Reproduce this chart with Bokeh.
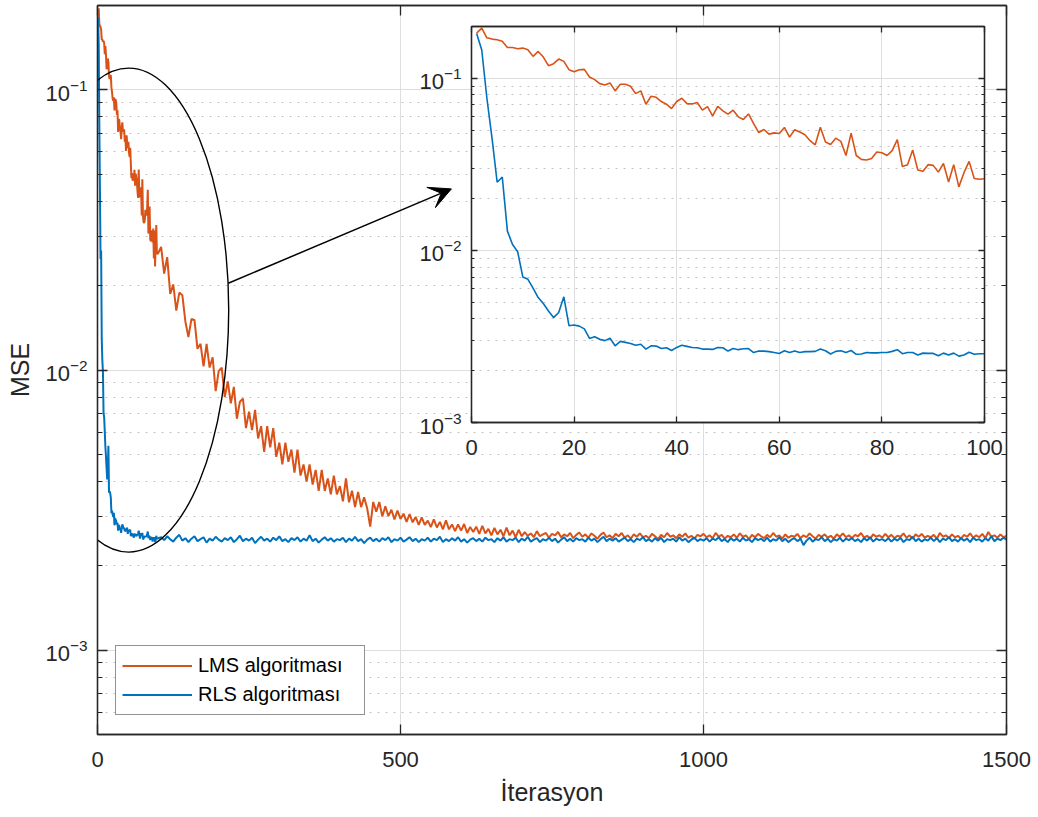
from bokeh.plotting import figure
from bokeh.models import (Range1d, LogAxis, LinearAxis, LogTicker, FixedTicker,
                          Legend, LegendItem, Arrow, VeeHead)
from bokeh.layouts import column
from bokeh.embed import file_html
from bokeh.resources import INLINE

# ---------------- data ----------------
inset_iter = list(range(1, 101))

lms_inset = [0.183, 0.1956, 0.172, 0.169, 0.1675, 0.1644, 0.1511, 0.1511, 0.1486, 0.1498,
             0.1466, 0.1341, 0.1433, 0.1329, 0.1184, 0.1216, 0.1294, 0.1254, 0.1122, 0.1093,
             0.1122, 0.1127, 0.1018, 0.0982, 0.0931, 0.0915, 0.0940, 0.0845, 0.0923, 0.0923,
             0.0899, 0.0815, 0.0845, 0.0707, 0.0787, 0.0776, 0.0733, 0.0707, 0.0667, 0.0733,
             0.0766, 0.0713, 0.0710, 0.0723, 0.0653, 0.0685, 0.0605, 0.0688, 0.0647, 0.0619,
             0.0653, 0.0597, 0.0576, 0.0621, 0.0546, 0.0484, 0.0504, 0.0474, 0.0482, 0.0478,
             0.0518, 0.0455, 0.0502, 0.0487, 0.0470, 0.0434, 0.0411, 0.0520, 0.0426, 0.0413,
             0.0449, 0.0430, 0.0356, 0.0480, 0.0356, 0.0338, 0.0335, 0.0342, 0.0373, 0.0369,
             0.0356, 0.0380, 0.0440, 0.0307, 0.0315, 0.0383, 0.0293, 0.0288, 0.0315, 0.0312,
             0.0285, 0.0320, 0.0250, 0.0315, 0.0234, 0.0283, 0.0329, 0.0262, 0.0259, 0.0261]

rls_inset = [0.182, 0.146, 0.0766, 0.0449, 0.0249, 0.0267, 0.01294, 0.01083, 0.00982, 0.00701,
             0.00679, 0.00603, 0.00532, 0.00491, 0.00445, 0.00407, 0.00436, 0.00537, 0.00365, 0.00369,
             0.00363, 0.00350, 0.00308, 0.00315, 0.00305, 0.00299, 0.00309, 0.00279, 0.00296, 0.00292,
             0.00288, 0.00281, 0.00285, 0.00267, 0.00279, 0.00278, 0.00269, 0.00272, 0.00262, 0.00273,
             0.00281, 0.00277, 0.00273, 0.00272, 0.00267, 0.00267, 0.00266, 0.00273, 0.00272, 0.00260,
             0.00269, 0.00265, 0.00268, 0.00269, 0.00255, 0.00260, 0.00260, 0.00258, 0.00255, 0.00252,
             0.00261, 0.00255, 0.00260, 0.00255, 0.00258, 0.00258, 0.00259, 0.00267, 0.00261, 0.00250,
             0.00259, 0.00261, 0.00255, 0.00262, 0.00249, 0.00250, 0.00255, 0.00254, 0.00254, 0.00255,
             0.00255, 0.00259, 0.00265, 0.00251, 0.00255, 0.00255, 0.00247, 0.00253, 0.00252, 0.00252,
             0.00244, 0.00253, 0.00247, 0.00253, 0.00243, 0.00247, 0.00256, 0.00249, 0.00251, 0.00251]

# LMS, iterations 105..1500 (every 5)
lms_rest_iter = list(range(105, 1501, 5))
lms_rest = [
    0.0275, 0.0221, 0.0253, 0.0187, 0.0202, 0.0163, 0.0189, 0.0185, 0.0149, 0.0131,
    0.0152, 0.0151, 0.0119, 0.0124, 0.0103, 0.0124, 0.0102, 0.0111, 0.0084, 0.0099,
    0.0102, 0.0080, 0.0091, 0.0076, 0.0087, 0.0067, 0.0077, 0.0079, 0.0062, 0.0071,
    0.0061, 0.0072, 0.0057, 0.0063, 0.0051, 0.0063, 0.0053, 0.0062, 0.0049, 0.0055,
    0.0046, 0.0055, 0.0047, 0.0052, 0.0043, 0.0052, 0.0042, 0.0046, 0.0040, 0.0046,
    0.0039, 0.0044, 0.0037, 0.0044, 0.0037, 0.0041, 0.0036, 0.0042, 0.0036, 0.00385,
    0.0034, 0.0041, 0.00337, 0.00371, 0.00324, 0.00367, 0.00324, 0.00351, 0.00321, 0.00276,
    0.00338, 0.00312, 0.00338, 0.00300, 0.00326, 0.00301, 0.00317, 0.00293, 0.00315, 0.00294,
    0.00307, 0.00287, 0.00306, 0.00286, 0.00299, 0.00280, 0.00298, 0.00280, 0.00290, 0.00275,
    0.00293, 0.00274, 0.00287, 0.00270, 0.00291, 0.00270, 0.00281, 0.00266, 0.00281, 0.00267,
    0.00282, 0.00262, 0.00275, 0.00264, 0.00276, 0.00260, 0.00278, 0.00261, 0.00271, 0.00257,
    0.00273, 0.00259, 0.00269, 0.00255, 0.00274, 0.00257, 0.00267, 0.00253, 0.00269, 0.00255,
    0.00264, 0.00256, 0.00261, 0.00253, 0.00266, 0.00255, 0.00259, 0.00262, 0.00252, 0.00260,
    0.00257, 0.00264, 0.00253, 0.00259, 0.00255, 0.00262, 0.00251, 0.00258, 0.00263, 0.00254,
    0.00259, 0.00252, 0.00261, 0.00256, 0.00250, 0.00258, 0.00263, 0.00253, 0.00257, 0.00251,
    0.00260, 0.00255, 0.00262, 0.00252, 0.00257, 0.00250, 0.00259, 0.00254, 0.00261, 0.00253,
    0.00256, 0.00251, 0.00260, 0.00255, 0.00249, 0.00258, 0.00253, 0.00262, 0.00254, 0.00257,
    0.00251, 0.00259, 0.00254, 0.00261, 0.00252, 0.00256, 0.00250, 0.00258, 0.00255, 0.00260,
    0.00253, 0.00257, 0.00251, 0.00262, 0.00254, 0.00258, 0.00250, 0.00256, 0.00253, 0.00259,
    0.00252, 0.00261, 0.00254, 0.00257, 0.00249, 0.00258, 0.00253, 0.00260, 0.00255, 0.00251,
    0.00258, 0.00253, 0.00262, 0.00254, 0.00257, 0.00250, 0.00259, 0.00252, 0.00256, 0.00254,
    0.00260, 0.00251, 0.00257, 0.00253, 0.00261, 0.00255, 0.00250, 0.00258, 0.00254, 0.00259,
    0.00252, 0.00256, 0.00250, 0.00259, 0.00254, 0.00261, 0.00253, 0.00257, 0.00251, 0.00258,
    0.00255, 0.00262, 0.00252, 0.00256, 0.00250, 0.00259, 0.00254, 0.00257, 0.00252, 0.00260,
    0.00253, 0.00258, 0.00251, 0.00256, 0.00254, 0.00261, 0.00252, 0.00257, 0.00250, 0.00259,
    0.00254, 0.00260, 0.00252, 0.00256, 0.00253, 0.00258, 0.00250, 0.00262, 0.00254, 0.00257,
    0.00251, 0.00259, 0.00253, 0.00256, 0.00250, 0.00258, 0.00254, 0.00261, 0.00252, 0.00257,
    0.00253, 0.00260, 0.00251, 0.00264, 0.00254, 0.00257, 0.00252, 0.00259, 0.00253, 0.00256]

# RLS, iterations 105..1500 (every 5)
rls_rest_iter = list(range(105, 1501, 5))
rls_rest = [
    0.00253, 0.00247, 0.00255, 0.00249, 0.00244, 0.00252, 0.00258, 0.00246, 0.00251, 0.00243,
    0.00250, 0.00255, 0.00245, 0.00249, 0.00253, 0.00242, 0.00250, 0.00246, 0.00254, 0.00248,
    0.00244, 0.00251, 0.00247, 0.00253, 0.00243, 0.00249, 0.00256, 0.00245, 0.00250, 0.00246,
    0.00252, 0.00241, 0.00248, 0.00254, 0.00246, 0.00250, 0.00244, 0.00252, 0.00247, 0.00255,
    0.00245, 0.00249, 0.00243, 0.00251, 0.00247, 0.00253, 0.00244, 0.00250, 0.00246, 0.00257,
    0.00245, 0.00250, 0.00242, 0.00248, 0.00253, 0.00246, 0.00251, 0.00244, 0.00249, 0.00247,
    0.00252, 0.00243, 0.00250, 0.00246, 0.00254, 0.00245, 0.00249, 0.00241, 0.00248, 0.00252,
    0.00245, 0.00250, 0.00244, 0.00251, 0.00247, 0.00253, 0.00243, 0.00249, 0.00246, 0.00252,
    0.00244, 0.00248, 0.00253, 0.00245, 0.00250, 0.00243, 0.00249, 0.00246, 0.00252, 0.00244,
    0.00250, 0.00247, 0.00254, 0.00243, 0.00249, 0.00245, 0.00251, 0.00246, 0.00253, 0.00244,
    0.00249, 0.00242, 0.00248, 0.00251, 0.00245, 0.00250, 0.00244, 0.00252, 0.00247, 0.00249,
    0.00243, 0.00251, 0.00246, 0.00253, 0.00244, 0.00249, 0.00247, 0.00252, 0.00243, 0.00250,
    0.00246, 0.00254, 0.00244, 0.00248, 0.00251, 0.00243, 0.00249, 0.00246, 0.00252, 0.00245,
    0.00250, 0.00242, 0.00248, 0.00253, 0.00245, 0.00250, 0.00244, 0.00251, 0.00247, 0.00249,
    0.00244, 0.00252, 0.00246, 0.00250, 0.00243, 0.00249, 0.00254, 0.00245, 0.00250, 0.00246,
    0.00251, 0.00244, 0.00248, 0.00252, 0.00245, 0.00249, 0.00243, 0.00250, 0.00247, 0.00253,
    0.00245, 0.00249, 0.00244, 0.00251, 0.00246, 0.00252, 0.00243, 0.00249, 0.00247, 0.00250,
    0.00244, 0.00253, 0.00246, 0.00250, 0.00243, 0.00248, 0.00252, 0.00245, 0.00249, 0.00246,
    0.00251, 0.00244, 0.00250, 0.00247, 0.00253, 0.00245, 0.00249, 0.00243, 0.00251, 0.00246,
    0.00250, 0.00244, 0.00252, 0.00246, 0.00249, 0.00243, 0.00251, 0.00247, 0.00250, 0.00245,
    0.00252, 0.00244, 0.00249, 0.00246, 0.00253, 0.00245, 0.00250, 0.00243, 0.00248, 0.00251,
    0.00245, 0.00250, 0.00237, 0.00246, 0.00252, 0.00244, 0.00249, 0.00247, 0.00253, 0.00245,
    0.00250, 0.00243, 0.00249, 0.00246, 0.00252, 0.00244, 0.00250, 0.00247, 0.00251, 0.00245,
    0.00249, 0.00243, 0.00251, 0.00246, 0.00253, 0.00244, 0.00250, 0.00247, 0.00249, 0.00245,
    0.00251, 0.00244, 0.00250, 0.00246, 0.00252, 0.00243, 0.00249, 0.00247, 0.00254, 0.00245,
    0.00250, 0.00244, 0.00249, 0.00246, 0.00252, 0.00245, 0.00251, 0.00243, 0.00250, 0.00247,
    0.00253, 0.00245, 0.00249, 0.00244, 0.00251, 0.00246, 0.00250, 0.00243, 0.00252, 0.00247,
    0.00249, 0.00244, 0.00251, 0.00246, 0.00255, 0.00245, 0.00250, 0.00247, 0.00252, 0.00248]

x_ticks_main = [0, 500, 1000, 1500]
x_ticks_inset = [0, 20, 40, 60, 80, 100]
labels = ["LMS algoritması", "RLS algoritması"]
x_label = "İterasyon"
y_label = "MSE"

# annotation anchors (data coordinates of the main axes)
ellipse_center = (51.5, 0.01636)
arrow_start = (215.8, 0.0204)
arrow_end = (584.0, 0.0443)

lms_x = inset_iter + lms_rest_iter
lms_y = lms_inset + lms_rest
rls_x = inset_iter + rls_rest_iter
rls_y = rls_inset + rls_rest

# ---------------- style ----------------
FONT = "Liberation Sans"
AX = "#262626"
LMS_C = "#D95319"
RLS_C = "#0072BD"
GRID = "#dedede"
MINOR = "#c2c2c2"


def style_axis(ax, tick_in, minor_in, labels_on=True, size="22px"):
    ax.axis_line_color = AX
    ax.axis_line_width = 1.3
    ax.major_tick_line_color = AX
    ax.minor_tick_line_color = AX
    ax.major_tick_line_width = 1.3
    ax.minor_tick_line_width = 1.1
    ax.major_tick_in = tick_in
    ax.major_tick_out = 0
    ax.minor_tick_in = minor_in
    ax.minor_tick_out = 0
    ax.major_label_text_font = FONT
    ax.major_label_text_color = AX
    ax.major_label_text_font_size = size
    if not labels_on:
        ax.major_label_text_font_size = "1px"
        ax.major_label_text_alpha = 0.0
        ax.major_label_standoff = 0


# ---------------- main figure ----------------
p = figure(width=1038, height=817, y_axis_type="log",
           x_range=Range1d(0, 1500), y_range=Range1d(5e-4, 0.2),
           output_backend="svg", toolbar_location=None,
           min_border_left=97, min_border_right=32, min_border_top=5, min_border_bottom=83)
p.background_fill_color = "white"
p.border_fill_color = "white"
p.outline_line_color = AX
p.outline_line_width = 1.3

p.xaxis.ticker = FixedTicker(ticks=x_ticks_main, minor_ticks=[])
p.yaxis.ticker = LogTicker(num_minor_ticks=10)
for ax in p.xaxis + p.yaxis:
    style_axis(ax, 10, 5)
p.xaxis.major_label_standoff = 17
p.yaxis.major_label_standoff = 10
p.xaxis.axis_label = x_label
p.yaxis.axis_label = y_label
for ax in p.xaxis + p.yaxis:
    ax.axis_label_text_font = FONT
    ax.axis_label_text_font_size = "25px"
    ax.axis_label_text_font_style = "normal"
    ax.axis_label_text_color = AX
p.xaxis.axis_label_standoff = 8
p.yaxis.axis_label_standoff = 8

ra = LogAxis(ticker=LogTicker(num_minor_ticks=10))
style_axis(ra, 10, 5, labels_on=False)
p.add_layout(ra, "right")
ta = LinearAxis(ticker=FixedTicker(ticks=x_ticks_main, minor_ticks=[]))
style_axis(ta, 10, 5, labels_on=False)
p.add_layout(ta, "above")

p.xgrid.grid_line_color = GRID
p.ygrid.grid_line_color = GRID
p.ygrid.minor_grid_line_color = MINOR
p.ygrid.minor_grid_line_dash = "2 6"

r_lms = p.line(lms_x, lms_y, line_color=LMS_C, line_width=2.0)
r_rls = p.line(rls_x, rls_y, line_color=RLS_C, line_width=2.0)

p.ellipse(x=[ellipse_center[0]], y=[ellipse_center[1]], width=200, height=484,
          width_units="screen", height_units="screen",
          fill_color=None, line_color="black", line_width=1.4)
p.add_layout(Arrow(end=VeeHead(size=22, fill_color="black", line_color="black"),
                   x_start=arrow_start[0], y_start=arrow_start[1],
                   x_end=arrow_end[0], y_end=arrow_end[1],
                   line_color="black", line_width=1.5))

legend = Legend(items=[LegendItem(label=labels[0], renderers=[r_lms]),
                       LegendItem(label=labels[1], renderers=[r_rls])],
                location=(18, 19), orientation="vertical",
                label_text_font=FONT, label_text_font_size="20px", label_text_color="black",
                glyph_width=70, glyph_height=27, label_height=27, label_width=160,
                label_standoff=6, spacing=2, padding=6, margin=0,
                border_line_color=AX, border_line_width=1.2,
                background_fill_color="white", background_fill_alpha=1.0)
p.add_layout(legend)

# ---------------- inset ----------------
# same left/right borders as the main figure (the column aligns them)
q = figure(width=642, height=448, y_axis_type="log",
           x_range=Range1d(0, 100), y_range=Range1d(1e-3, 0.2),
           output_backend="svg", toolbar_location=None,
           min_border_left=97, min_border_right=32, min_border_top=6, min_border_bottom=46)
q.border_fill_color = None
q.background_fill_color = "white"
q.outline_line_color = AX
q.outline_line_width = 1.3
q.xaxis.ticker = FixedTicker(ticks=x_ticks_inset, minor_ticks=[])
q.yaxis.ticker = LogTicker(num_minor_ticks=10)
for ax in q.xaxis + q.yaxis:
    style_axis(ax, 6, 3)
q.xaxis.major_label_standoff = 17
q.yaxis.major_label_standoff = 10
qa = LogAxis(ticker=LogTicker(num_minor_ticks=10))
style_axis(qa, 6, 3, labels_on=False)
q.add_layout(qa, "right")
qt = LinearAxis(ticker=FixedTicker(ticks=x_ticks_inset, minor_ticks=[]))
style_axis(qt, 6, 3, labels_on=False)
q.add_layout(qt, "above")
q.xgrid.grid_line_color = GRID
q.ygrid.grid_line_color = GRID
q.ygrid.minor_grid_line_color = MINOR
q.ygrid.minor_grid_line_dash = "2 6"
q.line(inset_iter, lms_inset, line_color=LMS_C, line_width=1.6)
q.line(inset_iter, rls_inset, line_color=RLS_C, line_width=1.6)

q.styles = {"position": "absolute", "left": "374px", "top": "20px"}
layout = column(p, q)
layout.styles = {"position": "relative"}

open("out.html", "w").write(file_html(layout, INLINE))
